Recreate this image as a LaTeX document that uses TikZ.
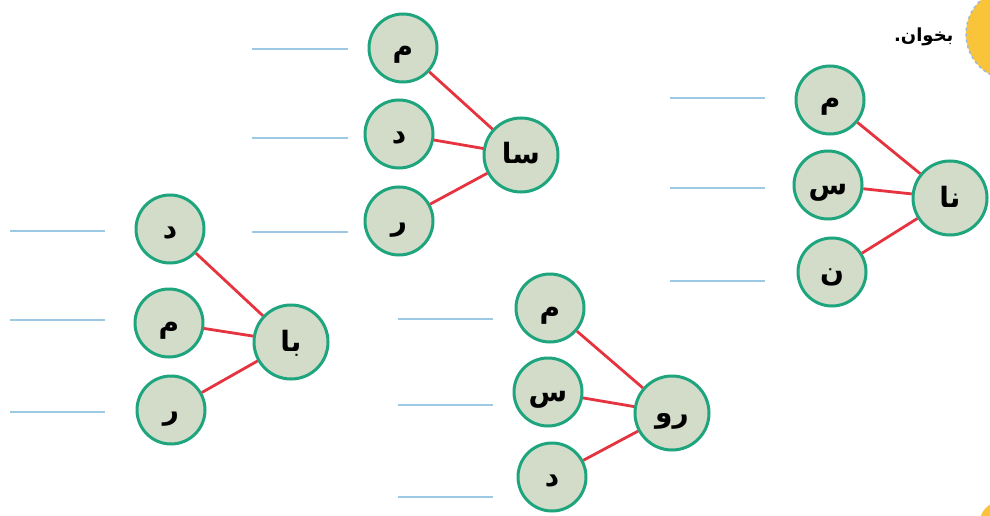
\documentclass[tikz,border=0pt]{standalone}
\usepackage{fontspec}
\newfontfamily\arabicfont[Script=Arabic]{DejaVu Sans}
\TeXXeTstate=1
\definecolor{cfill}{HTML}{D2DCC9}
\definecolor{cdraw}{HTML}{1FA57E}
\definecolor{cred}{HTML}{E5333F}
\definecolor{cblue}{HTML}{9CC9E4}
\definecolor{cyel}{HTML}{F9C43A}
\definecolor{cdash}{HTML}{9FB8DA}
\tikzset{
  letter/.style={circle,fill=cfill,draw=cdraw,line width=3pt,minimum size=68pt,inner sep=0pt,text height=18pt,text depth=0pt,font=\arabicfont\bfseries\fontsize{28}{30}\selectfont},
  syll/.style={letter,minimum size=74pt},
  link/.style={draw=cred,line width=2.8pt},
  blank/.style={draw=cblue,line width=1.8pt}
}
\newcommand{\ar}[1]{\beginR #1\endR}
\begin{document}
\begin{tikzpicture}[x=1pt,y=-1pt]
\useasboundingbox (0,0) rectangle (990,516);
% yellow badges
\node[circle,fill=cyel,draw=cdash,dashed,line width=1.5pt,minimum size=92pt] (badge) at (1012,34) {};
\node[circle,fill=cyel,minimum size=40pt] (badge2) at (1000,522) {};
\node[font=\arabicfont\bfseries\fontsize{18}{21}\selectfont,anchor=east] (title) at (957,37) {\beginR بخوان.\endR};
% group right
\node[letter] (a1) at (830,100) {\ar{م}};
\node[letter] (a2) at (828,185) {\ar{س}};
\node[letter] (a3) at (832,272) {\ar{ن}};
\node[syll] (a0) at (950,198) {\ar{نا}};
\foreach \i in {1,2,3} \draw[link] (a0) -- (a\i);
\coordinate (al1s) at (670,98); \coordinate (al1e) at (765,98);
\coordinate (al2s) at (670,188); \coordinate (al2e) at (765,188);
\coordinate (al3s) at (670,281); \coordinate (al3e) at (765,281);
\foreach \i in {1,2,3} \draw[blank] (al\i s) -- (al\i e);
% group top middle
\node[letter] (b1) at (403,48) {\ar{م}};
\node[letter] (b2) at (399,134) {\ar{د}};
\node[letter] (b3) at (399,221) {\ar{ر}};
\node[syll] (b0) at (521,155) {\ar{سا}};
\foreach \i in {1,2,3} \draw[link] (b0) -- (b\i);
\coordinate (bl1s) at (252,49); \coordinate (bl1e) at (348,49);
\coordinate (bl2s) at (252,138); \coordinate (bl2e) at (348,138);
\coordinate (bl3s) at (252,232); \coordinate (bl3e) at (348,232);
\foreach \i in {1,2,3} \draw[blank] (bl\i s) -- (bl\i e);
% group left
\node[letter] (c1) at (170,229) {\ar{د}};
\node[letter] (c2) at (169,323) {\ar{م}};
\node[letter] (c3) at (171,410) {\ar{ر}};
\node[syll] (c0) at (291,342) {\ar{با}};
\foreach \i in {1,2,3} \draw[link] (c0) -- (c\i);
\coordinate (cl1s) at (10,231); \coordinate (cl1e) at (105,231);
\coordinate (cl2s) at (10,320); \coordinate (cl2e) at (105,320);
\coordinate (cl3s) at (10,412); \coordinate (cl3e) at (105,412);
\foreach \i in {1,2,3} \draw[blank] (cl\i s) -- (cl\i e);
% group bottom
\node[letter] (d1) at (550,308) {\ar{م}};
\node[letter] (d2) at (548,392) {\ar{س}};
\node[letter] (d3) at (552,477) {\ar{د}};
\node[syll] (d0) at (672,413) {\ar{رو}};
\foreach \i in {1,2,3} \draw[link] (d0) -- (d\i);
\coordinate (dl1s) at (398,319); \coordinate (dl1e) at (493,319);
\coordinate (dl2s) at (398,405); \coordinate (dl2e) at (493,405);
\coordinate (dl3s) at (398,497); \coordinate (dl3e) at (493,497);
\foreach \i in {1,2,3} \draw[blank] (dl\i s) -- (dl\i e);
\end{tikzpicture}
\end{document}
